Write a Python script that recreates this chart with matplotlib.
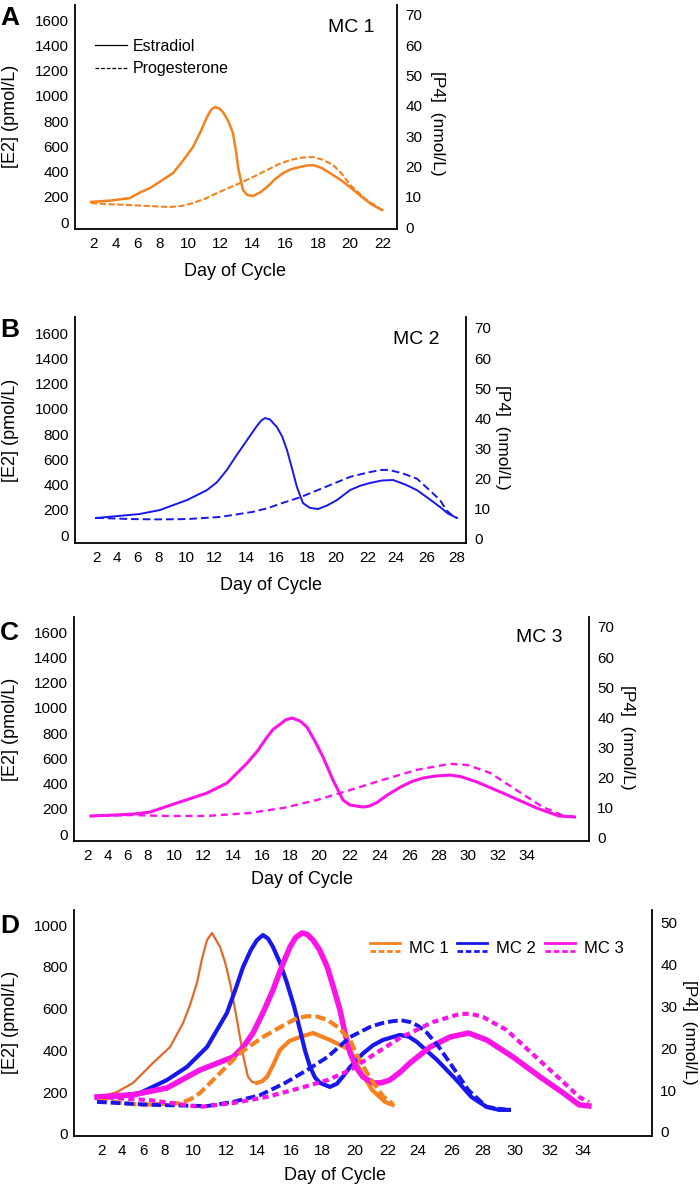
import numpy as np
import matplotlib.pyplot as plt
from matplotlib.lines import Line2D
from matplotlib.legend_handler import HandlerBase

plt.rcParams['font.family'] = ['Liberation Sans', 'DejaVu Sans']

W, H = 700, 1188

# ---------------- data ----------------
# A : MC 1
a_e2_day = [1.73, 3.5, 5.27, 6.2, 7.09, 8.0, 8.93, 9.6, 10.31, 10.8, 11.19, 11.45, 11.69, 11.95,
            12.19, 12.5, 12.81, 13.0, 13.13, 13.3, 13.44, 13.7, 14.06, 14.5, 14.91, 15.4, 15.88,
            16.4, 16.91, 17.3, 17.7, 18.2, 18.75, 19.4, 20.0, 20.7, 21.3, 21.94]
a_e2 = [160, 170, 190, 235, 269, 320, 388, 480, 594, 720, 832, 890, 911, 900,
        870, 805, 705, 560, 436, 330, 253, 215, 206, 235, 277, 340, 388,
        420, 436, 447, 451, 430, 388, 335, 277, 200, 140, 95]
a_p4_day = [1.73, 3.4, 5.0, 7.09, 8.71, 9.6, 10.31, 11.1, 11.81, 12.5, 13.25, 14.1, 14.91, 15.6,
            16.3, 17.0, 17.7, 18.3, 18.94, 19.5, 20.0, 21.0, 21.94]
a_p4 = [7.9, 7.5, 7.3, 6.9, 6.6, 7.0, 7.9, 9.4, 11.2, 12.8, 14.5, 16.6, 18.8, 20.7,
        22.1, 22.9, 23.1, 22.2, 20.5, 17.5, 13.9, 9.0, 5.6]

# B : MC 2
b_e2_day = [1.9, 4.0, 6.1, 8.07, 9.0, 10.07, 11.5, 12.2, 12.8, 13.4, 14.07, 14.7, 15.0, 15.27,
            15.6, 16.06, 16.4, 16.71, 17.05, 17.35, 17.74, 18.2, 18.76, 19.4, 20.06, 20.88,
            21.5, 22.13, 23.0, 23.79, 24.6, 25.35, 26.1, 26.87, 27.4, 28.0]
b_e2 = [135, 150, 166, 198, 235, 277, 356, 420, 515, 630, 752, 860, 905, 927,
        915, 855, 780, 673, 520, 380, 253, 215, 206, 235, 277, 356,
        390, 412, 432, 436, 400, 356, 290, 222, 170, 135]
b_p4_day = [1.9, 5.43, 8.0, 10.07, 12.38, 14.47, 15.5, 16.45, 17.55, 19.3, 20.88, 22.13, 23.0,
            23.5, 24.4, 25.35, 26.1, 26.87, 27.3, 27.73, 28.0]
b_p4 = [7.0, 6.6, 6.5, 6.6, 7.3, 9.0, 10.3, 12.0, 13.8, 17.3, 20.6, 22.2, 22.9,
        22.9, 21.8, 20.0, 16.5, 12.9, 9.5, 7.6, 7.0]

# C : MC 3
c_e2_day = [2.38, 4.5, 6.5, 8.15, 10.2, 12.27, 13.6, 14.97, 15.7, 16.36, 16.8, 17.3, 17.7, 18.14,
            18.7, 19.17, 19.7, 20.26, 20.9, 21.55, 22.0, 22.87, 23.3, 23.8, 24.5, 25.33, 26.1,
            26.9, 27.8, 28.76, 29.5, 30.6, 32.33, 34.67, 36.2, 37.27]
c_e2 = [143, 150, 158, 174, 246, 325, 404, 562, 660, 768, 830, 870, 905, 919,
        895, 847, 740, 610, 428, 269, 230, 214, 222, 250, 310, 370, 415,
        444, 460, 467, 455, 412, 325, 206, 143, 135]
c_p4_day = [2.38, 6.5, 9.46, 12.27, 15.17, 17.57, 19.86, 22.0, 24.2, 26.47, 28.76, 29.97, 31.47,
            33.27, 35.07, 36.4, 37.27]
c_p4 = [7.3, 7.6, 7.3, 7.3, 8.3, 10.0, 12.6, 15.9, 19.3, 22.6, 24.6, 24.2, 21.6,
        15.9, 10.3, 7.6, 7.0]

# D : all three cycles
d1_e2_day = [1.62, 3.5, 5.05, 6.91, 8.36, 9.29, 9.8, 10.24, 10.55, 10.85, 11.15, 11.64, 11.95,
             12.26, 12.6, 12.9, 13.15, 13.42, 13.7, 14.0, 14.3, 14.59, 14.95, 15.35, 15.9, 16.58,
             17.42, 18.48, 19.7, 20.3, 21.03, 21.82, 22.3]
d1_e2 = [172, 200, 244, 340, 416, 531, 620, 723, 840, 928, 962, 895, 820,
         723, 590, 464, 360, 273, 248, 244, 252, 273, 330, 402, 445, 464,
         483, 450, 402, 306, 211, 153, 139]
d1_p4_day = [1.62, 5.71, 9.07, 9.8, 10.42, 11.64, 12.9, 14.35, 15.76, 16.4, 17.03, 17.7, 18.32,
             19.0, 19.7, 20.3, 20.9, 21.7, 22.3]
d1_p4 = [7.6, 6.5, 6.9, 7.8, 9.3, 14.1, 18.9, 22.7, 26.0, 27.2, 27.7, 27.6, 26.8,
         25.0, 22.0, 17.0, 13.0, 8.5, 6.8]

d2_e2_day = [1.62, 3.5, 5.71, 8.14, 9.57, 10.85, 12.06, 12.6, 13.1, 13.6, 14.0, 14.35, 14.65,
             14.94, 15.35, 15.76, 16.2, 16.58, 16.9, 17.23, 17.55, 17.87, 18.48, 18.9, 19.27,
             19.7, 20.48, 21.1, 21.7, 22.8, 23.4, 23.93, 25.12, 26.29, 27.25, 28.23, 29.0, 29.62]
d2_e2 = [172, 180, 196, 258, 321, 416, 579, 690, 799, 880, 928, 952, 935,
         895, 820, 723, 610, 498, 400, 321, 270, 244, 225, 240, 275,
         320, 385, 425, 450, 474, 465, 440, 354, 258, 177, 129, 115, 115]
d2_p4_day = [1.62, 6.64, 10.85, 12.45, 14.17, 15.64, 17.03, 18.32, 19.7, 20.9, 21.6, 22.3, 22.9,
             23.47, 24.0, 24.53, 25.2, 25.88, 27.06, 28.23, 29.5]
d2_p4 = [7.2, 6.5, 6.2, 7.2, 8.8, 11.7, 14.8, 17.9, 22.7, 25.1, 26.0, 26.5, 26.7,
         26.3, 25.4, 23.7, 20.5, 16.5, 10.0, 6.0, 5.3]

d3_e2_day = [1.62, 5.05, 8.14, 10.42, 12.45, 13.1, 13.74, 14.35, 14.94, 15.45, 15.94, 16.3, 16.71,
             17.05, 17.42, 17.85, 18.32, 18.7, 19.09, 19.4, 19.7, 20.1, 20.48, 21.09, 21.6, 22.12,
             22.8, 23.47, 24.71, 25.88, 27.06, 28.23, 29.88, 31.43, 32.8, 33.76, 34.35]
d3_e2 = [177, 187, 220, 306, 368, 415, 483, 580, 689, 800, 895, 940, 962,
         955, 928, 880, 799, 700, 593, 480, 388, 315, 273, 244, 245, 258,
         295, 340, 416, 464, 483, 450, 368, 273, 196, 139, 134]
d3_p4_day = [1.62, 6.64, 10.42, 12.45, 14.59, 16.58, 18.32, 19.7, 20.9, 22.8, 24.88, 26.47, 27.2,
             28.0, 29.47, 31.2, 32.68, 33.76, 34.35]
d3_p4 = [8.4, 7.6, 6.0, 6.9, 8.4, 10.5, 12.4, 14.8, 17.9, 22.5, 26.3, 28.2, 28.3,
         27.5, 24.4, 17.9, 12.4, 8.4, 7.2]

ticks_a = list(range(2, 23, 2))
ticks_b = list(range(2, 29, 2))
ticks_c = list(range(2, 35, 2))
ticks_d = list(range(2, 35, 2))

ORANGE = '#f5821f'
ORANGE_DARK = '#e06a2a'
BLUE = '#1717ee'
MAGENTA = '#fa14e6'

# ---------------- layout (pixels) ----------------
# the day axis of the original is hand drawn: label spacing is not uniform
px_a = [94, 116, 138, 160, 188, 220, 252, 285, 318, 350, 383]
px_b = [97, 117, 138, 159, 186, 214, 246, 276, 307, 336, 368, 396, 427, 457]
px_c = [87, 108, 128, 148, 174, 203, 233, 262, 290, 319, 350, 380, 410, 439, 468, 498, 527]
px_d = [101, 122, 143, 165, 193, 226, 257, 291, 322, 355, 388, 418, 452, 483, 515, 550, 583]


def day_scale(days, px):
    days = np.asarray(days, float)
    px = np.asarray(px, float)
    s0 = (px[1] - px[0]) / (days[1] - days[0])
    s1 = (px[-1] - px[-2]) / (days[-1] - days[-2])
    d = np.r_[days[0] - 30, days, days[-1] + 30]
    p = np.r_[px[0] - 30 * s0, px, px[-1] + 30 * s1]
    return (lambda x: np.interp(x, d, p)), (lambda y: np.interp(y, p, d))


fig = plt.figure(figsize=(W / 100, H / 100), dpi=100)


def panel(box, days, px, ylim_l, ylim_r, yticks_l, yticks_r):
    left, top, right, bottom = box
    ax = fig.add_axes([left / W, 1 - bottom / H, (right - left) / W, (bottom - top) / H])
    fwd, inv = day_scale(days, px)
    ax.set_xscale('function', functions=(fwd, inv))
    ax.set_xlim(inv(left), inv(right))
    ax.set_xticks(days)
    ax.set_xticklabels([str(d) for d in days])
    ax.set_ylim(*ylim_l)
    ax.set_yticks(yticks_l)
    ax2 = ax.twinx()
    ax2.set_ylim(*ylim_r)
    ax2.set_yticks(yticks_r)
    for a in (ax, ax2):
        a.spines['top'].set_visible(False)
        for s in a.spines.values():
            s.set_linewidth(1.3)
        a.tick_params(length=0, labelsize=11)
    ax.spines['right'].set_visible(False)
    ax2.spines['left'].set_visible(False)
    ax2.spines['bottom'].set_visible(False)
    ax.tick_params(axis='x', pad=5.5)
    ax.tick_params(axis='y', pad=4.5)
    ax2.tick_params(axis='y', pad=6)
    ax.patch.set_visible(False)
    return ax, ax2


def labels(xl, yl, yr, letter):
    fig.text(xl[0] / W, 1 - xl[1] / H, 'Day of Cycle', ha='center', va='center', fontsize=13)
    fig.text(11 / W, 1 - yl / H, '[E2] (pmol/L)', ha='center', va='center', rotation=90, fontsize=13)
    fig.text(yr[0] / W, 1 - yr[1] / H, '[P4]  (nmol/L)', ha='center', va='center',
             rotation=-90, fontsize=12.5)
    fig.text(0 / W, 1 - letter[1] / H, letter[0], ha='left', va='baseline', fontsize=19,
             fontweight='bold')


# ---- A ----
ax, ax2 = panel((75, 5, 397, 229), ticks_a, px_a, (-55, 1719), (-0.66, 73.3),
                range(0, 1601, 200), range(0, 71, 10))
ax.plot(a_e2_day, a_e2, color=ORANGE, lw=1.8, solid_joinstyle='round')
ax2.plot(a_p4_day, a_p4, color=ORANGE, lw=1.5, ls=(0, (3, 1.2)))
h1 = Line2D([], [], color='black', lw=0.9)
h2 = Line2D([], [], color='black', lw=0.9, ls=(0, (3, 1.5)))
ax.legend([h1, h2], ['Estradiol', 'Progesterone'], frameon=False, fontsize=11.5,
          loc='upper left', bbox_to_anchor=((95 - 75) / 322, 1 - (39 - 5) / 224),
          borderpad=0, borderaxespad=0, handlelength=2.0, handletextpad=0.35,
          labelspacing=0.45)
fig.text(328 / W, 1 - 27 / H, 'MC 1', ha='left', va='center', fontsize=14)
labels((235, 271), 116, (437, 123), ('A', 25))

# ---- B ----
ax, ax2 = panel((75, 317, 466, 543), ticks_b, px_b, (-63, 1727), (-1.33, 73.6),
                range(0, 1601, 200), range(0, 71, 10))
ax.plot(b_e2_day, b_e2, color=BLUE, lw=1.4, solid_joinstyle='round')
ax2.plot(b_p4_day, b_p4, color=BLUE, lw=1.4, ls=(0, (4, 2)))
fig.text(393 / W, 1 - 340 / H, 'MC 2', ha='left', va='center', fontsize=14)
labels((271, 585), 430, (503, 437), ('B', 337))

# ---- C ----
ax, ax2 = panel((74, 617, 589, 841), ticks_c, px_c, (-55, 1719), (-1.0, 73.3),
                range(0, 1601, 200), range(0, 71, 10))
ax.plot(c_e2_day, c_e2, color=MAGENTA, lw=2.2, solid_joinstyle='round')
ax2.plot(c_p4_day, c_p4, color=MAGENTA, lw=1.7, ls=(0, (3, 2)))
fig.text(516 / W, 1 - 637 / H, 'MC 3', ha='left', va='center', fontsize=14)
labels((302, 880), 729, (628, 737), ('C', 640))

# ---- D ----
ax, ax2 = panel((74, 910, 652, 1136), ticks_d, px_d, (-10, 1072), (-0.96, 53.1),
                range(0, 1001, 200), range(0, 51, 10))
k = d1_e2_day.index(14.0)  # the thin part of the MC 1 estradiol trace ends at its trough
ax.plot(d1_e2_day[:k + 1], d1_e2[:k + 1], color=ORANGE_DARK, lw=1.6, solid_joinstyle='round')
ax.plot(d1_e2_day[k:], d1_e2[k:], color=ORANGE, lw=3.0, solid_joinstyle='round')
ax.plot(d2_e2_day, d2_e2, color=BLUE, lw=3.0, solid_joinstyle='round')
ax.plot(d3_e2_day, d3_e2, color=MAGENTA, lw=4.0, solid_joinstyle='round')
ax2.plot(d1_p4_day, d1_p4, color=ORANGE, lw=3.0, ls=(0, (2.5, 1)))
ax2.plot(d2_p4_day, d2_p4, color=BLUE, lw=2.8, ls=(0, (2.5, 1)))
ax2.plot(d3_p4_day, d3_p4, color=MAGENTA, lw=3.0, ls=(0, (1.5, 1)))


class PairHandler(HandlerBase):
    def create_artists(self, legend, orig_handle, xdescent, ydescent, width, height,
                       fontsize, trans):
        col = orig_handle[0].get_color()
        x = [-xdescent, width - xdescent]
        y1 = height * 0.85 - ydescent
        y2 = height * 0.2 - ydescent
        l1 = Line2D(x, [y1, y1], color=col, lw=2, transform=trans)
        l2 = Line2D(x, [y2, y2], color=col, lw=2, ls=(0, (2, 1)), transform=trans)
        return [l1, l2]


pairs = [(Line2D([], [], color=c), Line2D([], [], color=c)) for c in (ORANGE, BLUE, MAGENTA)]
ax2.legend(pairs, ['MC 1', 'MC 2', 'MC 3'], handler_map={tuple: PairHandler()},
           ncol=3, frameon=False, fontsize=12, loc='upper left',
           bbox_to_anchor=((370 - 74) / 578, 1 - (941 - 910) / 226),
           borderpad=0, borderaxespad=0, handlelength=1.8, handletextpad=0.55,
           columnspacing=0.5)
labels((335, 1175), 1022, (690, 1032), ('D', 933))

fig.savefig('out.png', dpi=100)
